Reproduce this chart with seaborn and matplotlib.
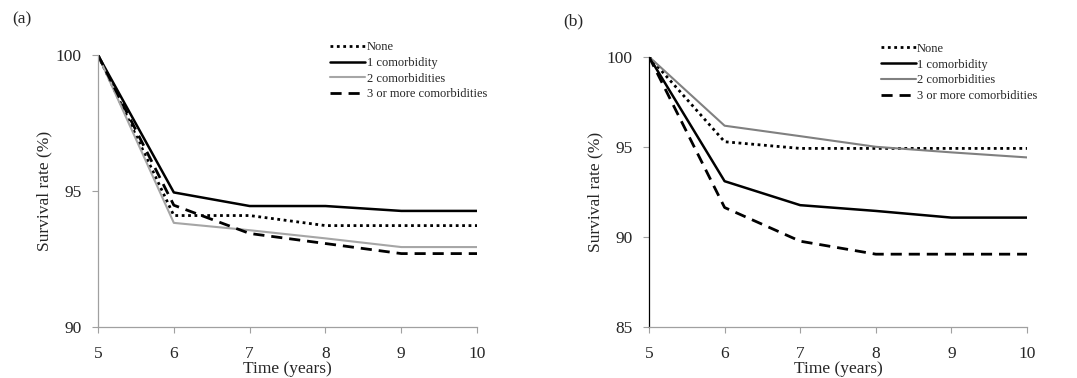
import pandas as pd
import numpy as np
import matplotlib
matplotlib.use("Agg")
import matplotlib.pyplot as plt
import seaborn as sns

# Data
years = [5, 6, 7, 8, 9, 10]
groups = ["None", "1 comorbidity", "2 comorbidities", "3 or more comorbidities"]

a_none = [100, 94.10, 94.10, 93.73, 93.73, 93.73]
a_one = [100, 94.95, 94.45, 94.45, 94.27, 94.27]
a_two = [100, 93.83, 93.56, 93.26, 92.94, 92.94]
a_three = [100, 94.48, 93.44, 93.07, 92.70, 92.70]

b_none = [100, 95.28, 94.91, 94.91, 94.91, 94.91]
b_one = [100, 93.09, 91.76, 91.44, 91.07, 91.07]
b_two = [100, 96.17, 95.59, 95.00, 94.69, 94.41]
b_three = [100, 91.63, 89.76, 89.04, 89.04, 89.04]


def make_df(series):
    rows = []
    for g, vals in zip(groups, series):
        for t, v in zip(years, vals):
            rows.append({"Time": t, "Survival": v, "Group": g})
    return pd.DataFrame(rows)


df_a = make_df([a_none, a_one, a_two, a_three])
df_b = make_df([b_none, b_one, b_two, b_three])

sns.set_style("white")
plt.rcParams["font.family"] = ["Liberation Serif", "DejaVu Serif"]

fig = plt.figure(figsize=(10.77, 3.78), dpi=100)
ax_a = fig.add_axes([0.091, 0.135, 0.352, 0.719])
ax_b = fig.add_axes([0.6026, 0.135, 0.351, 0.715])

styles = {
    "None": dict(ls=(0, (1, 1.3)), lw=2.0),
    "1 comorbidity": dict(ls="-", lw=1.8),
    "2 comorbidities": dict(ls="-", lw=1.5),
    "3 or more comorbidities": dict(ls=(0, (4, 2.5)), lw=2.0),
}


def draw(ax, df, gray, ylim, yticks, yspine, label):
    colors = {"None": "black", "1 comorbidity": "black",
              "2 comorbidities": gray, "3 or more comorbidities": "black"}
    for g in groups:
        sub = df[df["Group"] == g]
        sns.lineplot(data=sub, x="Time", y="Survival", ax=ax, color=colors[g],
                     linestyle=styles[g]["ls"], linewidth=styles[g]["lw"],
                     label=g)
    ax.set_xlim(5, 10)
    ax.set_ylim(*ylim)
    ax.set_xticks(years)
    ax.set_yticks(yticks)
    ax.set_xlabel("Time (years)", fontsize=12.5, labelpad=-1)
    ax.set_ylabel("Survival rate (%)", fontsize=12.5, labelpad=2)
    ax.tick_params(axis="both", labelsize=12.5, direction="out", length=4,
                   width=0.8, color="#a0a0a0", bottom=True, left=True)
    ax.tick_params(axis="x", pad=10)
    ax.tick_params(axis="y", pad=8)
    for s in ["top", "right"]:
        ax.spines[s].set_visible(False)
    ax.spines["bottom"].set_color("#a0a0a0")
    ax.spines["left"].set_color(yspine)
    ax.spines["bottom"].set_linewidth(0.9)
    ax.spines["left"].set_linewidth(0.9)
    ax.legend(loc="upper left", bbox_to_anchor=(0.6, 1.07), frameon=False,
              fontsize=9, handlelength=2.8, handletextpad=0.1,
              labelspacing=0.3, borderaxespad=0)
    ax.text(-0.227, 1.13, label, transform=ax.transAxes, fontsize=12.5,
            va="center", ha="left")


draw(ax_a, df_a, "#a6a6a6", (90, 100), [90, 95, 100], "#a0a0a0", "(a)")
draw(ax_b, df_b, "#808080", (85, 100), [85, 90, 95, 100], "black", "(b)")

fig.savefig("out.png", dpi=100)
